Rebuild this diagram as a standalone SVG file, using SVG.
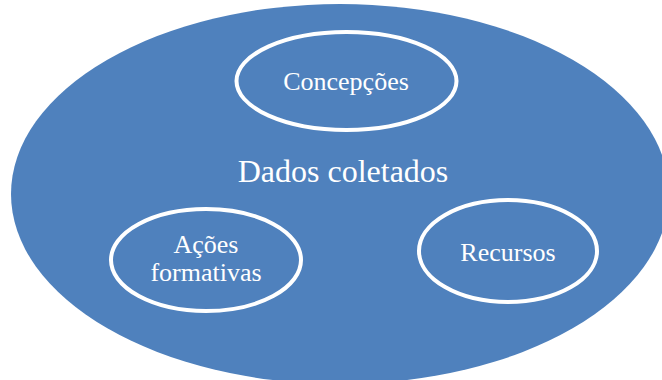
<svg xmlns="http://www.w3.org/2000/svg" width="662" height="380" viewBox="0 0 662 380">
<style>
.bg{fill:#4F81BD}
.sub{fill:none;stroke:#FFFFFF;stroke-width:4}
text{font-family:"Liberation Serif","Times New Roman",serif;fill:#FFFFFF;text-anchor:middle}
.s{font-size:26px}
.m{font-size:32px}
</style>
<rect width="662" height="380" fill="#FFFFFF"/>
<g id="dados">
<ellipse class="bg" cx="340" cy="194" rx="329" ry="190"/>
<text class="m" x="343" y="182">Dados coletados</text>
</g>
<g id="concepcoes">
<ellipse class="sub" cx="346.5" cy="81" rx="110" ry="49"/>
<text class="s" x="346" y="90">Concepções</text>
</g>
<g id="acoes">
<ellipse class="sub" cx="206" cy="260" rx="95" ry="51"/>
<text class="s" x="206" y="253">Ações</text>
<text class="s" x="206" y="281">formativas</text>
</g>
<g id="recursos">
<ellipse class="sub" cx="508" cy="251" rx="89" ry="51"/>
<text class="s" x="508" y="261">Recursos</text>
</g>
<g id="connectors"></g>
</svg>
